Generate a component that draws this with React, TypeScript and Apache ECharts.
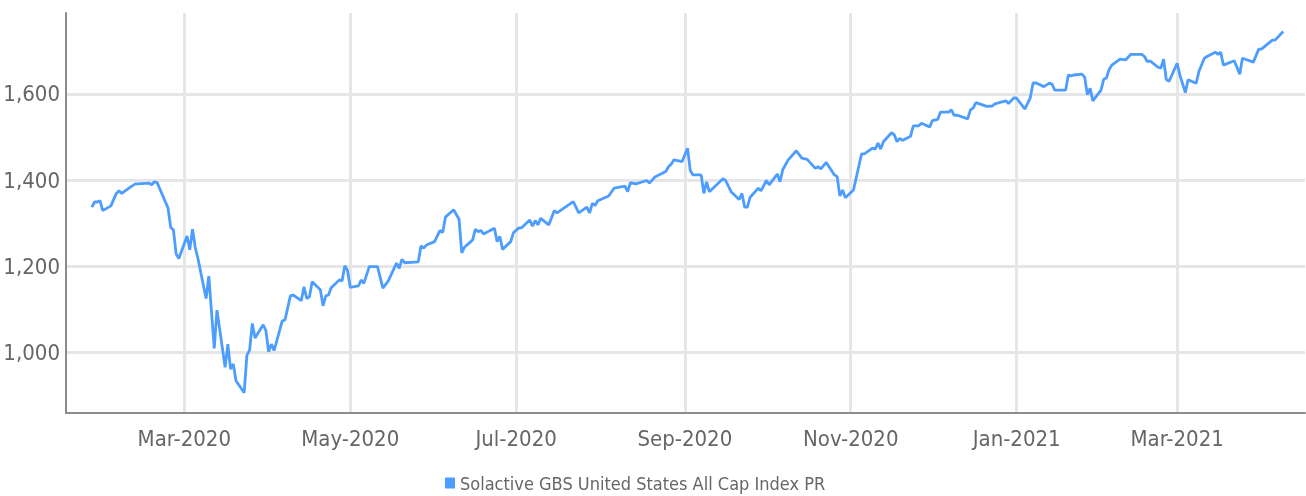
import React, { useEffect, useRef } from "react";
import * as echarts from "echarts";

const seriesName = "Solactive GBS United States All Cap Index PR";

const dates: string[] = [
  "2020-01-27","2020-01-28","2020-01-29","2020-01-30","2020-01-31","2020-02-03","2020-02-05","2020-02-06","2020-02-07","2020-02-10",
  "2020-02-12","2020-02-13","2020-02-17","2020-02-18","2020-02-19","2020-02-20","2020-02-24","2020-02-25","2020-02-26","2020-02-27",
  "2020-02-28","2020-03-02","2020-03-03","2020-03-04","2020-03-05","2020-03-06","2020-03-09","2020-03-10","2020-03-12","2020-03-13",
  "2020-03-16","2020-03-17","2020-03-18","2020-03-19","2020-03-20","2020-03-23","2020-03-24","2020-03-25","2020-03-26","2020-03-27",
  "2020-03-30","2020-03-31","2020-04-01","2020-04-02","2020-04-03","2020-04-06","2020-04-07","2020-04-09","2020-04-10","2020-04-13",
  "2020-04-14","2020-04-15","2020-04-16","2020-04-17","2020-04-20","2020-04-21","2020-04-22","2020-04-23","2020-04-24","2020-04-27",
  "2020-04-28","2020-04-29","2020-04-30","2020-05-01","2020-05-04","2020-05-05","2020-05-06","2020-05-08","2020-05-11","2020-05-13",
  "2020-05-15","2020-05-18","2020-05-19","2020-05-20","2020-05-21","2020-05-26","2020-05-27","2020-05-28","2020-05-29","2020-06-01",
  "2020-06-03","2020-06-04","2020-06-05","2020-06-08","2020-06-10","2020-06-11","2020-06-12","2020-06-15","2020-06-16","2020-06-17",
  "2020-06-18","2020-06-19","2020-06-23","2020-06-24","2020-06-25","2020-06-26","2020-06-29","2020-06-30","2020-07-02","2020-07-03",
  "2020-07-06","2020-07-07","2020-07-08","2020-07-09","2020-07-10","2020-07-13","2020-07-15","2020-07-16","2020-07-22","2020-07-24",
  "2020-07-27","2020-07-28","2020-07-29","2020-07-30","2020-07-31","2020-08-04","2020-08-06","2020-08-10","2020-08-11","2020-08-12",
  "2020-08-14","2020-08-18","2020-08-19","2020-08-21","2020-08-25","2020-08-26","2020-08-27","2020-08-28","2020-08-31","2020-09-02",
  "2020-09-03","2020-09-04","2020-09-07","2020-09-08","2020-09-09","2020-09-10","2020-09-15","2020-09-16","2020-09-18","2020-09-21",
  "2020-09-22","2020-09-23","2020-09-24","2020-09-25","2020-09-28","2020-09-29","2020-10-01","2020-10-02","2020-10-05","2020-10-06",
  "2020-10-07","2020-10-09","2020-10-12","2020-10-14","2020-10-16","2020-10-19","2020-10-20","2020-10-21","2020-10-23","2020-10-26",
  "2020-10-27","2020-10-28","2020-10-29","2020-10-30","2020-11-02","2020-11-05","2020-11-06","2020-11-09","2020-11-10","2020-11-11",
  "2020-11-12","2020-11-13","2020-11-16","2020-11-17","2020-11-18","2020-11-19","2020-11-20","2020-11-23","2020-11-24","2020-11-26",
  "2020-11-27","2020-11-30","2020-12-01","2020-12-03","2020-12-04","2020-12-07","2020-12-08","2020-12-09","2020-12-10","2020-12-14",
  "2020-12-15","2020-12-16","2020-12-17","2020-12-21","2020-12-23","2020-12-24","2020-12-28","2020-12-29","2020-12-31","2021-01-01",
  "2021-01-04","2021-01-06","2021-01-07","2021-01-08","2021-01-11","2021-01-13","2021-01-14","2021-01-15","2021-01-19","2021-01-20",
  "2021-01-21","2021-01-22","2021-01-25","2021-01-26","2021-01-27","2021-01-28","2021-01-29","2021-02-01","2021-02-02","2021-02-03",
  "2021-02-04","2021-02-05","2021-02-08","2021-02-10","2021-02-12","2021-02-16","2021-02-17","2021-02-18","2021-02-19","2021-02-22",
  "2021-02-23","2021-02-24","2021-02-25","2021-02-26","2021-03-01","2021-03-02","2021-03-04","2021-03-05","2021-03-08","2021-03-09",
  "2021-03-11","2021-03-12","2021-03-15","2021-03-16","2021-03-17","2021-03-18","2021-03-22","2021-03-24","2021-03-25","2021-03-29",
  "2021-03-31","2021-04-01","2021-04-05","2021-04-06","2021-04-09"
];

const values: number[] = [
  1337,1349,1349,1352,1329,1340,1369,1375,1369,1383,
  1391,1391,1393,1389,1396,1394,1335,1290,1284,1228,
  1218,1270,1238,1286,1244,1218,1125,1177,1009,1098,
  965,1019,961,973,934,906,993,1005,1067,1033,
  1064,1050,1001,1019,1004,1073,1075,1131,1133,1120,
  1152,1125,1129,1164,1145,1108,1131,1133,1150,1168,
  1166,1201,1190,1151,1154,1168,1160,1199,1199,1149,
  1166,1207,1195,1216,1208,1210,1247,1242,1249,1257,
  1283,1278,1314,1331,1309,1231,1244,1261,1286,1280,
  1283,1275,1288,1257,1269,1239,1257,1278,1289,1289,
  1307,1293,1306,1296,1311,1296,1329,1324,1350,1324,
  1337,1324,1346,1341,1352,1363,1381,1386,1373,1394,
  1391,1399,1393,1407,1420,1431,1437,1447,1443,1474,
  1422,1412,1412,1369,1396,1373,1403,1399,1373,1355,
  1369,1337,1337,1360,1381,1375,1399,1389,1414,1396,
  1424,1447,1468,1451,1448,1427,1431,1426,1441,1412,
  1408,1363,1377,1359,1377,1461,1461,1474,1472,1486,
  1472,1489,1510,1505,1489,1497,1492,1502,1526,1526,
  1532,1523,1538,1541,1558,1558,1563,1550,1551,1542,
  1563,1567,1580,1571,1572,1577,1584,1578,1591,1590,
  1565,1591,1625,1626,1617,1625,1623,1609,1609,1644,
  1642,1644,1646,1639,1598,1613,1584,1609,1634,1637,
  1657,1667,1681,1679,1692,1692,1687,1675,1677,1662,
  1660,1681,1634,1629,1671,1644,1603,1633,1625,1652,
  1683,1687,1697,1692,1697,1667,1677,1646,1683,1674,
  1704,1704,1725,1725,1745
];

const xTickDates: string[] = ["2020-03-01","2020-05-01","2020-07-01","2020-09-01","2020-11-01","2021-01-01","2021-03-01"];
const yTickValues: number[] = [1000, 1200, 1400, 1600];
const monthNames: string[] = ["Jan","Feb","Mar","Apr","May","Jun","Jul","Aug","Sep","Oct","Nov","Dec"];

const toTime = (s: string): number => {
  const [y, m, d] = s.split("-").map(Number);
  return new Date(y, m - 1, d).getTime();
};

const FONT = '"Liberation Sans Narrow", "DejaVu Sans Condensed", "Roboto", sans-serif';

export default function App() {
  const ref = useRef<HTMLDivElement>(null);
  useEffect(() => {
    if (!ref.current) return;
    const chart = echarts.init(ref.current, undefined, { renderer: "svg" });
    const xMin = new Date(2020, 0, 17, 12).getTime();
    const xMax = new Date(2021, 3, 17).getTime();
    const xTicks = xTickDates.map(toTime);
    chart.setOption({
      animation: false,
      grid: { left: 66, right: 1, top: 13, height: 400, containLabel: false },
      legend: {
        show: true,
        left: 441,
        top: 474,
        padding: [0, 4, 0, 4],
        icon: "rect",
        itemWidth: 10,
        itemHeight: 11,
        textStyle: { fontFamily: FONT, fontSize: 18, color: "#666666" },
        data: [seriesName],
      },
      xAxis: {
        type: "value",
        min: xMin,
        max: xMax,
        axisLine: { show: true, lineStyle: { color: "#8c8c8c", width: 2 } },
        axisTick: { show: false, customValues: xTicks },
        splitLine: { show: true, lineStyle: { color: "#e6e6e6", width: 3 } },
        axisLabel: {
          customValues: xTicks,
          fontFamily: FONT,
          fontSize: 22,
          color: "#666666",
          margin: 14,
          formatter: (v: number) => {
            const d = new Date(v);
            return monthNames[d.getMonth()] + "-" + d.getFullYear();
          },
        },
      },
      yAxis: {
        type: "value",
        min: 859,
        max: 1788,
        axisLine: { show: true, lineStyle: { color: "#8c8c8c", width: 2 } },
        axisTick: { show: false, customValues: yTickValues },
        splitLine: { show: true, lineStyle: { color: "#e6e6e6", width: 3 } },
        axisLabel: {
          customValues: yTickValues,
          fontFamily: FONT,
          fontSize: 22,
          color: "#666666",
          margin: 6,
          padding: [6, 0, 0, 0],
          formatter: (v: number) => v.toLocaleString("en-US"),
        },
      },
      series: [
        {
          name: seriesName,
          type: "line",
          data: dates.map((d, i) => [toTime(d), values[i]]),
          showSymbol: false,
          symbol: "none",
          lineStyle: { color: "#4d9dff", width: 2.8 },
          itemStyle: { color: "#4d9dff" },
        },
      ],
    });
    return () => chart.dispose();
  }, []);
  return <div ref={ref} style={{ position: "fixed", left: 0, top: 0, width: 1306, height: 496 }} />;
}
